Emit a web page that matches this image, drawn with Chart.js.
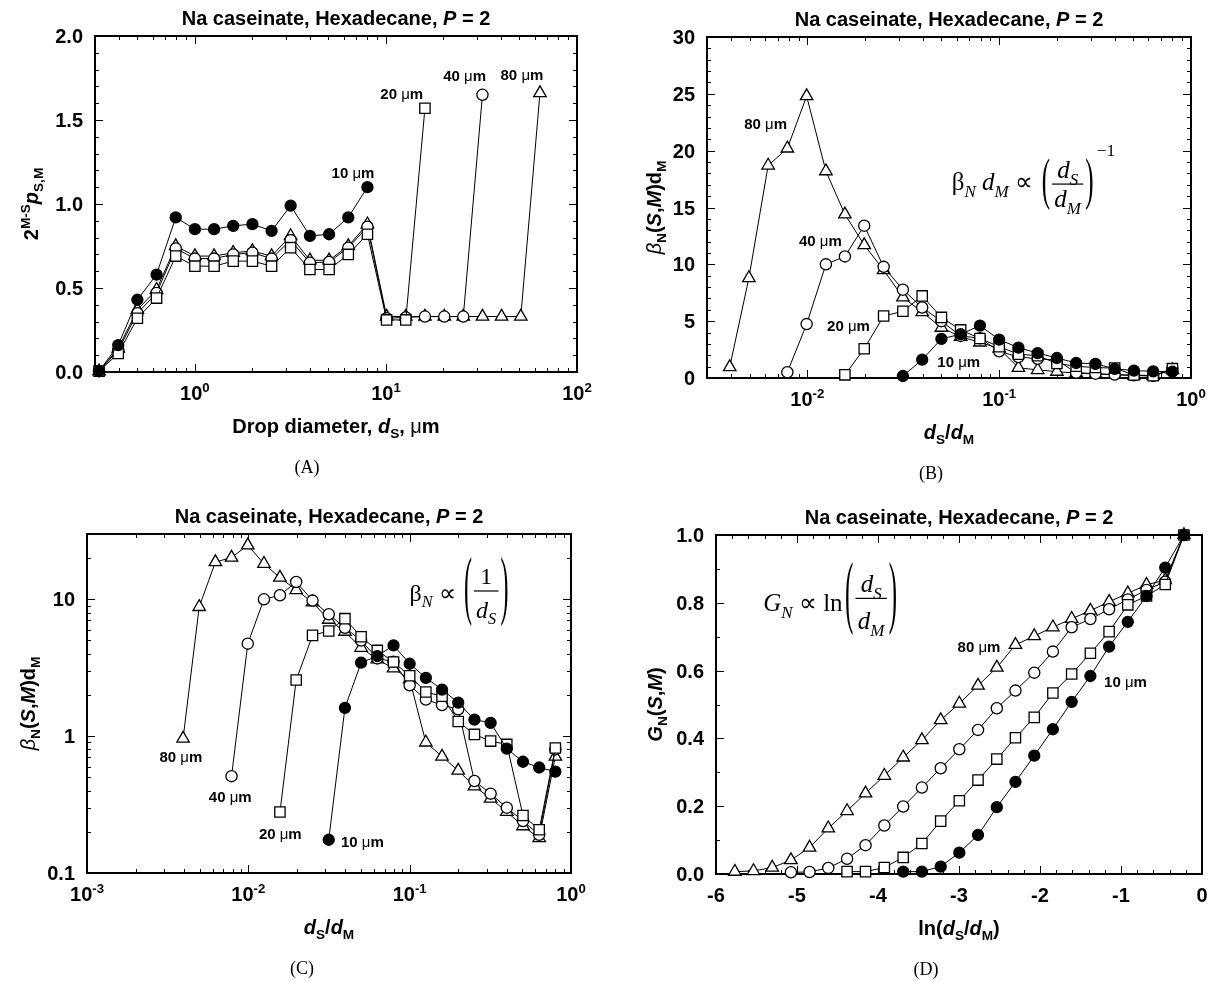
<!DOCTYPE html>
<html><head><meta charset="utf-8">
<script src="https://cdn.jsdelivr.net/npm/chart.js@4.4.0/dist/chart.umd.min.js"></script>
<style>html,body{margin:0;padding:0;background:#fff;width:1213px;height:981px;overflow:hidden}canvas{position:absolute;left:0;top:0}</style>
</head><body>
<canvas id="cA" width="1213" height="981"></canvas>
<canvas id="cB" width="1213" height="981"></canvas>
<canvas id="cC" width="1213" height="981"></canvas>
<canvas id="cD" width="1213" height="981"></canvas>
<script>
// ---------------- DATA ----------------
// Panel A: drop diameters (µm)
const dropDiam = [0.315, 0.397, 0.5, 0.63, 0.794, 1.0, 1.26, 1.587, 2.0, 2.52, 3.17, 4.0, 5.04, 6.35, 8.0, 10.08, 12.7, 16.0, 20.2, 25.4, 32.0, 40.3, 50.8, 64.0];
const pA10 = [0.005, 0.16, 0.43, 0.58, 0.92, 0.85, 0.85, 0.87, 0.88, 0.84, 0.99, 0.81, 0.82, 0.92, 1.10];
const pA20 = [0.005, 0.11, 0.32, 0.44, 0.69, 0.63, 0.63, 0.66, 0.66, 0.63, 0.74, 0.61, 0.61, 0.70, 0.82, 0.31, 0.31, 1.57];
const pA40 = [0.005, 0.13, 0.35, 0.47, 0.735, 0.675, 0.675, 0.70, 0.71, 0.675, 0.785, 0.65, 0.655, 0.74, 0.865, 0.32, 0.325, 0.33, 0.33, 0.33, 1.65];
const pA80 = [0.005, 0.14, 0.37, 0.49, 0.75, 0.69, 0.69, 0.71, 0.72, 0.69, 0.81, 0.665, 0.665, 0.75, 0.88, 0.33, 0.33, 0.33, 0.33, 0.33, 0.33, 0.33, 0.33, 1.66];

// Panels B, C: dS/dM ratio grid and beta_N(S,M) dM
const ratio = [0.00394, 0.00496, 0.00625, 0.00787, 0.00992, 0.0125, 0.0157, 0.0198, 0.025, 0.0315, 0.0397, 0.05, 0.063, 0.0794, 0.1, 0.126, 0.1587, 0.2, 0.252, 0.3175, 0.4, 0.504, 0.635, 0.8];
const beta10 = [0.175, 1.61, 3.44, 3.85, 4.61, 3.38, 2.67, 2.19, 1.76, 1.32, 1.25, 0.81, 0.65, 0.59, 0.55];
const beta20 = [0.279, 2.57, 5.45, 5.87, 7.22, 5.33, 4.23, 3.48, 2.76, 2.1, 1.96, 1.28, 1.03, 0.92, 0.87, 0.263, 0.207, 0.82];
const beta40 = [0.51, 4.74, 10.0, 10.7, 13.4, 9.78, 7.77, 6.2, 5.0, 3.7, 3.5, 2.35, 1.85, 1.69, 1.57, 0.47, 0.38, 0.30, 0.24, 0.19, 0.80];
const beta80 = [0.96, 8.8, 18.7, 20.2, 24.8, 18.2, 14.4, 11.7, 9.5, 7.1, 5.8, 4.43, 3.64, 3.13, 2.6, 0.90, 0.71, 0.56, 0.43, 0.35, 0.28, 0.22, 0.18, 0.71];
const startIdx = {s10: 9, s20: 6, s40: 3, s80: 0};

// Panel D: ln(dS/dM) grid and G_N(S,M)
const lnRatio = [-5.768, -5.537, -5.306, -5.075, -4.845, -4.614, -4.382, -4.154, -3.922, -3.689, -3.458, -3.226, -2.996, -2.765, -2.533, -2.303, -2.071, -1.841, -1.609, -1.378, -1.147, -0.916, -0.685, -0.454, -0.223];
const G10 = [0.007, 0.007, 0.022, 0.063, 0.115, 0.197, 0.272, 0.349, 0.427, 0.508, 0.584, 0.671, 0.744, 0.82, 0.904, 1.0];
const G20 = [0.007, 0.007, 0.019, 0.049, 0.09, 0.156, 0.216, 0.277, 0.339, 0.402, 0.462, 0.534, 0.59, 0.651, 0.715, 0.794, 0.82, 0.854, 1.0];
const G40 = [0.005, 0.006, 0.018, 0.045, 0.085, 0.143, 0.199, 0.255, 0.312, 0.368, 0.425, 0.489, 0.541, 0.594, 0.656, 0.728, 0.752, 0.781, 0.81, 0.838, 0.862, 1.0];
const G80 = [0.007, 0.009, 0.019, 0.041, 0.078, 0.135, 0.186, 0.238, 0.29, 0.344, 0.395, 0.454, 0.503, 0.556, 0.609, 0.676, 0.702, 0.728, 0.753, 0.777, 0.803, 0.828, 0.853, 0.867, 1.0];

// Tick values and labels
const aXTicks = [1, 10, 100], aXLabels = ['10^0', '10^1', '10^2'];
const aYTicks = [0, 0.5, 1, 1.5, 2], aYLabels = ['0.0', '0.5', '1.0', '1.5', '2.0'];
const bXTicks = [0.01, 0.1, 1], bXLabels = ['10^-2', '10^-1', '10^0'];
const bYTicks = [0, 5, 10, 15, 20, 25, 30], bYLabels = ['0', '5', '10', '15', '20', '25', '30'];
const cXTicks = [0.001, 0.01, 0.1, 1], cXLabels = ['10^-3', '10^-2', '10^-1', '10^0'];
const cYTicks = [0.1, 1, 10], cYLabels = ['0.1', '1', '10'];
const dXTicks = [-6, -5, -4, -3, -2, -1, 0], dXLabels = ['-6', '-5', '-4', '-3', '-2', '-1', '0'];
const dYTicks = [0, 0.2, 0.4, 0.6, 0.8, 1.0], dYLabels = ['0.0', '0.2', '0.4', '0.6', '0.8', '1.0'];
const seriesNames = ['10 μm', '20 μm', '40 μm', '80 μm'];

// ---------------- LAYOUT / STYLE ----------------
const W = 1213, H = 981;
const SANS = '"Liberation Sans", Arial, Helvetica, sans-serif';
const SERIF = '"Liberation Serif", "Times New Roman", serif';
const BOX = {
  A: {L: 95, R: 577, T: 36, B: 372},
  B: {L: 707, R: 1191, T: 37, B: 378},
  C: {L: 87, R: 571, T: 534, B: 873},
  D: {L: 716, R: 1202, T: 535, B: 874}
};
const STY = {
  s10: {pointStyle: 'circle', pointRadius: 5.5, pointBackgroundColor: '#000'},
  s20: {pointStyle: 'rect', pointRadius: 7.3, pointBackgroundColor: '#fff'},
  s40: {pointStyle: 'circle', pointRadius: 5.6, pointBackgroundColor: '#fff'},
  s80: {pointStyle: 'triangle', pointRadius: 7.2, pointBackgroundColor: '#fff'}
};

function fnt(size, b, i, fam) { return (i ? 'italic ' : '') + (b ? 'bold ' : '') + size.toFixed(1) + 'px ' + fam; }
function layoutRuns(ctx, runs, base, fam) {
  let w = 0; const items = [];
  for (const r of runs) {
    const sz = (r.sub || r.sup) ? base * (r.scale || 0.68) : base * (r.scale || 1);
    const f = fnt(sz, r.b, r.i, r.f || fam);
    ctx.font = f;
    const tw = ctx.measureText(r.t).width;
    items.push({t: r.t, f, x: w, dy: r.sub ? base * 0.27 : (r.sup ? -base * 0.42 : 0)});
    w += tw + (r.k || 0);
  }
  return {items, w};
}
function drawLayout(ctx, L, x, y) {
  ctx.textAlign = 'left'; ctx.textBaseline = 'alphabetic';
  for (const it of L.items) { ctx.font = it.f; ctx.fillText(it.t, x + it.x, y + it.dy); }
}
function drawRuns(ctx, runs, x, y, base, fam, align) {
  const L = layoutRuns(ctx, runs, base, fam);
  const x0 = align === 'right' ? x - L.w : (align === 'left' ? x : x - L.w / 2);
  drawLayout(ctx, L, x0, y);
}
function labelRuns(s) {
  if (s.indexOf('^') >= 0) { const p = s.split('^'); return [{t: p[0], b: 1}, {t: p[1], b: 1, sup: 1, scale: 0.66}]; }
  return [{t: s, b: 1}];
}
function drawParen(ctx, ch, x, cy, fs, k) {
  ctx.save(); ctx.translate(x, cy); ctx.scale(1, k);
  ctx.font = fnt(fs, false, false, SERIF); ctx.textBaseline = 'alphabetic'; ctx.textAlign = 'left';
  ctx.fillText(ch, 0, 0.245 * fs); ctx.restore();
}
function drawFormula(ctx, f, px, py) {
  const fs = f.fs;
  const pre = layoutRuns(ctx, f.pre, fs, SERIF);
  const num = layoutRuns(ctx, f.num, fs, SERIF);
  const den = layoutRuns(ctx, f.den, fs, SERIF);
  const sup = f.sup ? layoutRuns(ctx, f.sup, fs, SERIF) : {w: 0, items: []};
  ctx.font = fnt(fs, false, false, SERIF);
  const pw = ctx.measureText('(').width;
  const fw = Math.max(num.w, den.w) + fs * 0.35;
  const gap = fs * 0.1;
  const total = pre.w + gap + pw + fw + pw + (f.sup ? sup.w + 3 : 0);
  let x = px - total / 2;
  drawLayout(ctx, pre, x, py + f.mainDy);
  x += pre.w + gap;
  drawParen(ctx, '(', x, py, fs, f.parenK);
  x += pw;
  ctx.fillRect(x + fs * 0.08, py - 0.6, fw - fs * 0.16, 1.2);
  drawLayout(ctx, num, x + (fw - num.w) / 2, py + f.numDy);
  drawLayout(ctx, den, x + (fw - den.w) / 2, py + f.denDy);
  x += fw;
  drawParen(ctx, ')', x, py, fs, f.parenK);
  x += pw;
  if (f.sup) drawLayout(ctx, sup, x + 3, py + f.supDy);
}

function logMinors(min, max) {
  const out = [];
  for (let e = -4; e <= 3; e++) for (let k = 2; k <= 9; k++) {
    const v = k * Math.pow(10, e);
    if (v >= min * 0.999 && v <= max * 1.001) out.push(v);
  }
  return out;
}
function linMinors(min, max, step) {
  const out = []; const n = Math.round((max - min) / step);
  for (let i = 0; i <= n; i++) out.push(min + i * step);
  return out;
}
function series(xs, ys, off) { return ys.map((v, i) => ({x: xs[i + off], y: v})); }
function ds(key, xs, ys, name) {
  return Object.assign({label: name, data: series(xs, ys, startIdx[key] !== undefined && xs !== dropDiam ? startIdx[key] : 0),
    borderColor: '#000', borderWidth: 1, pointBorderColor: '#000', pointBorderWidth: 1.3,
    showLine: true, fill: false, tension: 0, clip: false}, STY[key]);
}

const SUBS = {
  title: [{t: 'Na caseinate, Hexadecane, ', b: 1}, {t: 'P', b: 1, i: 1}, {t: ' = 2', b: 1}],
  betaY: [{t: 'β', i: 1}, {t: 'N', b: 1, sub: 1}, {t: '(', b: 1}, {t: 'S', b: 1, i: 1}, {t: ',', b: 1}, {t: 'M', b: 1, i: 1}, {t: ')', b: 1}, {t: 'd', b: 1}, {t: 'M', b: 1, sub: 1}],
  ratioX: [{t: 'd', b: 1, i: 1}, {t: 'S', b: 1, sub: 1}, {t: '/', b: 1}, {t: 'd', b: 1, i: 1}, {t: 'M', b: 1, sub: 1}]
};
function note(s) { const p = s.split(' '); return [{t: p[0] + ' ', b: 1}, {t: 'μ'}, {t: 'm', b: 1}]; }

const PANELS = [
  {id: 'cA', box: BOX.A, caption: '(A)', capX: 307,
   x: {type: 'logarithmic', min: 0.3, max: 100}, y: {type: 'linear', min: 0, max: 2},
   xT: aXTicks, xL: aXLabels, xM: logMinors(0.3, 100), yT: aYTicks, yL: aYLabels, yM: linMinors(0, 2, 0.1), mirrorY: true,
   xTitle: [{t: 'Drop diameter, ', b: 1}, {t: 'd', b: 1, i: 1}, {t: 'S', b: 1, sub: 1}, {t: ', ', b: 1}, {t: 'μ'}, {t: 'm', b: 1}],
   yTitle: [{t: '2', b: 1}, {t: 'M-S', b: 1, sup: 1}, {t: 'p', b: 1, i: 1}, {t: 'S,M', b: 1, sub: 1}], yTitleX: 31,
   datasets: [ds('s10', dropDiam, pA10, seriesNames[0]), ds('s20', dropDiam, pA20, seriesNames[1]), ds('s40', dropDiam, pA40, seriesNames[2]), ds('s80', dropDiam, pA80, seriesNames[3])],
   notes: [[6.72, 1.19, seriesNames[0]], [12.1, 1.658, seriesNames[1]], [25.8, 1.763, seriesNames[2]], [51.5, 1.769, seriesNames[3]]]},
  {id: 'cB', box: BOX.B, caption: '(B)', capX: 931,
   x: {type: 'logarithmic', min: 0.003, max: 1}, y: {type: 'linear', min: 0, max: 30},
   xT: bXTicks, xL: bXLabels, xM: logMinors(0.003, 1), yT: bYTicks, yL: bYLabels, yM: linMinors(0, 30, 1), mirrorY: true,
   xTitle: SUBS.ratioX, yTitle: SUBS.betaY, yTitleX: 654,
   datasets: [ds('s10', ratio, beta10, seriesNames[0]), ds('s20', ratio, beta20, seriesNames[1]), ds('s40', ratio, beta40, seriesNames[2]), ds('s80', ratio, beta80, seriesNames[3])],
   notes: [[0.0616, 1.48, seriesNames[0]], [0.0164, 4.66, seriesNames[1]], [0.0117, 12.1, seriesNames[2]], [0.00606, 22.4, seriesNames[3]]],
   formula: {fs: 25, cx: 0.151, cy: 17.06, parenK: 2.3, numDy: -6, denDy: 23, mainDy: 6, supDy: -28,
     pre: [{t: 'β'}, {t: 'N', i: 1, sub: 1}, {t: ' '}, {t: 'd', i: 1}, {t: 'M', i: 1, sub: 1}, {t: ' ∝ '}],
     num: [{t: 'd', i: 1}, {t: 'S', i: 1, sub: 1}], den: [{t: 'd', i: 1}, {t: 'M', i: 1, sub: 1}],
     sup: [{t: '−1', scale: 0.7}]}},
  {id: 'cC', box: BOX.C, caption: '(C)', capX: 302,
   x: {type: 'logarithmic', min: 0.001, max: 1}, y: {type: 'logarithmic', min: 0.1, max: 30},
   xT: cXTicks, xL: cXLabels, xM: logMinors(0.001, 1), yT: cYTicks, yL: cYLabels, yM: logMinors(0.1, 30), mirrorY: true,
   xTitle: SUBS.ratioX, yTitle: SUBS.betaY, yTitleX: 28,
   datasets: [ds('s10', ratio, beta10, seriesNames[0]), ds('s20', ratio, beta20, seriesNames[1]), ds('s40', ratio, beta40, seriesNames[2]), ds('s80', ratio, beta80, seriesNames[3])],
   notes: [[0.0509, 0.17, seriesNames[0]], [0.01578, 0.194, seriesNames[1]], [0.00772, 0.36, seriesNames[2]], [0.00382, 0.706, seriesNames[3]]],
   formula: {fs: 24, cx: 0.202, cy: 11.5, parenK: 3.2, numDy: -7, denDy: 27, mainDy: 10,
     pre: [{t: 'β'}, {t: 'N', i: 1, sub: 1}, {t: ' ∝ '}], num: [{t: '1'}], den: [{t: 'd', i: 1}, {t: 'S', i: 1, sub: 1}]}},
  {id: 'cD', box: BOX.D, caption: '(D)', capX: 926,
   x: {type: 'linear', min: -6, max: 0}, y: {type: 'linear', min: 0, max: 1},
   xT: dXTicks, xL: dXLabels, xM: linMinors(-6, 0, 0.2), yT: dYTicks, yL: dYLabels, yM: linMinors(0, 1, 0.1), mirrorY: false,
   xTitle: [{t: 'ln(', b: 1}, {t: 'd', b: 1, i: 1}, {t: 'S', b: 1, sub: 1}, {t: '/', b: 1}, {t: 'd', b: 1, i: 1}, {t: 'M', b: 1, sub: 1}, {t: ')', b: 1}],
   yTitle: [{t: 'G', b: 1, i: 1}, {t: 'N', b: 1, sub: 1}, {t: '(', b: 1}, {t: 'S', b: 1, i: 1}, {t: ',', b: 1}, {t: 'M', b: 1, i: 1}, {t: ')', b: 1}], yTitleX: 655,
   datasets: [ds('s10', lnRatio, G10, seriesNames[0]), ds('s20', lnRatio, G20, seriesNames[1]), ds('s40', lnRatio, G40, seriesNames[2]), ds('s80', lnRatio, G80, seriesNames[3])],
   notes: [[-0.945, 0.569, seriesNames[0]], [-2.753, 0.671, seriesNames[3]]],
   formula: {fs: 25, cx: -4.59, cy: 0.813, parenK: 3.2, numDy: -6, denDy: 31, mainDy: 13,
     pre: [{t: 'G', i: 1}, {t: 'N', i: 1, sub: 1}, {t: ' ∝ ln'}], num: [{t: 'd', i: 1}, {t: 'S', i: 1, sub: 1}], den: [{t: 'd', i: 1}, {t: 'M', i: 1, sub: 1}]}}
];

function framePlugin(P) {
  return {
    id: 'frame_' + P.id,
    beforeDatasetsDraw(chart) {
      const ctx = chart.ctx, a = chart.chartArea, xs = chart.scales.x, ys = chart.scales.y;
      ctx.save();
      ctx.strokeStyle = '#000'; ctx.fillStyle = '#000'; ctx.lineWidth = 1;
      ctx.beginPath();
      const tx = (vals, len) => vals.forEach(v => {
        const p = Math.round(xs.getPixelForValue(v)) + 0.5;
        if (p < a.left - 0.5 || p > a.right + 0.5) return;
        ctx.moveTo(p, a.bottom); ctx.lineTo(p, a.bottom - len);
        ctx.moveTo(p, a.top); ctx.lineTo(p, a.top + len);
      });
      const ty = (vals, len) => vals.forEach(v => {
        const p = Math.round(ys.getPixelForValue(v)) + 0.5;
        if (p < a.top - 0.5 || p > a.bottom + 0.5) return;
        ctx.moveTo(a.left, p); ctx.lineTo(a.left + len, p);
        if (P.mirrorY) { ctx.moveTo(a.right, p); ctx.lineTo(a.right - len, p); }
      });
      tx(P.xM, 4); tx(P.xT, 8); ty(P.yM, 4); ty(P.yT, 8);
      ctx.stroke();
      ctx.lineWidth = 2;
      ctx.strokeRect(a.left, a.top, a.right - a.left, a.bottom - a.top);
      // tick labels
      P.xT.forEach((v, i) => drawRuns(ctx, labelRuns(P.xL[i]), xs.getPixelForValue(v), a.bottom + 28, 20, SANS, 'center'));
      P.yT.forEach((v, i) => drawRuns(ctx, labelRuns(P.yL[i]), a.left - 12, ys.getPixelForValue(v) + 7, 20, SANS, 'right'));
      // titles
      const cx = (a.left + a.right) / 2;
      drawRuns(ctx, SUBS.title, cx, a.top - 11, 20, SANS, 'center');
      drawRuns(ctx, P.xTitle, cx, a.bottom + 61, 20, SANS, 'center');
      ctx.save(); ctx.translate(P.yTitleX, (a.top + a.bottom) / 2); ctx.rotate(-Math.PI / 2);
      drawRuns(ctx, P.yTitle, 0, 7, 20, SANS, 'center'); ctx.restore();
      ctx.font = fnt(18, false, false, SERIF); ctx.textAlign = 'center'; ctx.textBaseline = 'alphabetic';
      ctx.fillText(P.caption, P.capX, a.bottom + 101);
      ctx.restore();
    },
    afterDatasetsDraw(chart) {
      const ctx = chart.ctx, xs = chart.scales.x, ys = chart.scales.y;
      ctx.save(); ctx.fillStyle = '#000';
      P.notes.forEach(n => drawRuns(ctx, note(n[2]), xs.getPixelForValue(n[0]), ys.getPixelForValue(n[1]) + 5.5, 15, SANS, 'center'));
      if (P.formula) drawFormula(ctx, P.formula, xs.getPixelForValue(P.formula.cx), ys.getPixelForValue(P.formula.cy));
      ctx.restore();
    }
  };
}

PANELS.forEach(P => {
  const b = P.box;
  const axisBase = {display: true, ticks: {display: false}, grid: {display: false, drawTicks: false}, border: {display: false}, title: {display: false}};
  new Chart(document.getElementById(P.id), {
    type: 'line',
    data: {datasets: P.datasets},
    options: {
      responsive: false, animation: false, devicePixelRatio: 1, parsing: true,
      layout: {padding: {left: b.L, right: W - b.R, top: b.T, bottom: H - b.B}},
      scales: {
        x: Object.assign({}, axisBase, P.x, {afterFit: s => { s.height = 0; }}),
        y: Object.assign({}, axisBase, P.y, {afterFit: s => { s.width = 0; }})
      },
      plugins: {legend: {display: false}, tooltip: {enabled: false}, title: {display: false}},
      events: []
    },
    plugins: [framePlugin(P)]
  });
});
</script>
</body></html>
